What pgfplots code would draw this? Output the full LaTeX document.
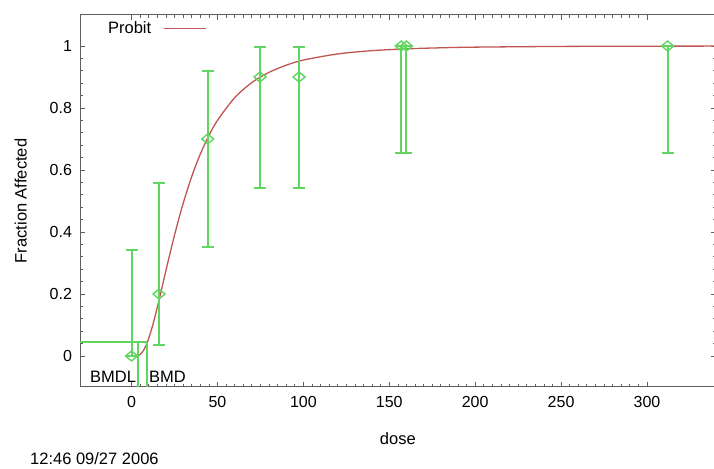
\documentclass[border=0pt]{standalone}
\usepackage{fontspec}
\setmainfont{Liberation Sans}
\usepackage{pgfplots}
\pgfplotsset{compat=1.18}
\definecolor{ebgreen}{RGB}{96,214,96}
\definecolor{curvered}{RGB}{192,86,82}
\definecolor{axgray}{RGB}{95,95,95}
\begin{document}
\begin{tikzpicture}
\useasboundingbox (0,0) rectangle (714pt,468pt);
\begin{axis}[
  at={(80pt,81pt)}, anchor=south west,
  scale only axis, width=635.7pt, height=372pt,
  xmin=-30, xmax=340, ymin=-0.1, ymax=1.1,
  xtick={0,50,...,300}, ytick={0,0.2,0.4,0.6,0.8,1},
  minor x tick num=9, minor y tick num=4,
  tick align=inside, major tick length=5pt, minor tick length=3pt,
  axis line style={axgray, line width=1pt},
  every tick/.style={axgray, line width=0.7pt},
  tick label style={font=\fontsize{16}{19}\selectfont},
  /pgf/number format/assume math mode=true,
  yticklabel style={xshift=-4.5pt},
  xticklabel style={yshift=-6pt},
  label style={font=\fontsize{16.5}{19}\selectfont},
  xlabel={dose}, ylabel={Fraction Affected},
  xlabel style={yshift=-18pt},
  ylabel style={yshift=16pt},
  legend plot pos=right,
  legend image code/.code={\path (0pt,0pt); \draw[#1] (10pt,0pt) -- (52pt,0pt);},
  legend style={draw=none, fill=none, at={(0.036,0.993)}, anchor=north west,
    font=\fontsize{16.5}{19}\selectfont},
]
\addplot[curvered, line width=1.3pt, smooth] coordinates {
(1,0.0000) (2,0.00005) (3,0.0005) (4,0.0020) (5,0.0051) (6,0.0105) (7,0.0183)
(8,0.0287) (9,0.0416) (10,0.0568) (12,0.0929) (14,0.1348) (16,0.1804)
(18,0.2275) (20,0.2753) (23,0.345) (26,0.411) (30,0.4916) (35,0.5785)
(40,0.651) (45,0.711) (50,0.760) (60,0.833) (70,0.882) (80,0.915)
(90,0.938) (100,0.9546) (120,0.9744) (140,0.985) (160,0.9908) (180,0.9942)
(200,0.9963) (250,0.9986) (300,0.9994) (340,0.9997)
};
\addlegendentry{Probit}
\addplot[color=ebgreen, line width=2pt, only marks, mark=diamond, mark size=5pt,
  mark options={xscale=1.6, line width=1.4pt, draw=ebgreen}, forget plot,
  error bars/.cd, y dir=both, y explicit,
  error bar style={line width=2pt, draw=ebgreen},
  error mark options={rotate=90, mark size=6pt, line width=2pt, draw=ebgreen}]
coordinates {
(0,0) += (0,0.342) -= (0,0)
(16,0.2) += (0,0.359) -= (0,0.165)
(44.3,0.7) += (0,0.220) -= (0,0.347)
(74.8,0.9) += (0,0.096) -= (0,0.357)
(97.5,0.9) += (0,0.096) -= (0,0.357)
(157,1.0) += (0,0) -= (0,0.346)
(160,1.0) += (0,0) -= (0,0.346)
(312,1.0) += (0,0) -= (0,0.346)
};
\addplot[draw=ebgreen, line width=2pt, forget plot] coordinates {(-30,0.046) (9.2,0.046)};
\addplot[draw=ebgreen, line width=2pt, forget plot] coordinates {(9.2,-0.1) (9.2,0.046)};
\addplot[draw=ebgreen, line width=2pt, forget plot] coordinates {(3.6,-0.1) (3.6,0.046)};
\node[anchor=east, inner sep=1pt, font=\fontsize{16.5}{19}\selectfont] at (axis cs:3.3,-0.067) {BMDL};
\node[anchor=west, inner sep=1pt, font=\fontsize{16.5}{19}\selectfont] at (axis cs:9.5,-0.067) {BMD};
\end{axis}
\node[anchor=base west, inner sep=0pt, font=\fontsize{16.5}{19}\selectfont] at (30pt,3.5pt) {12:46 09/27 2006};
\end{tikzpicture}
\end{document}
